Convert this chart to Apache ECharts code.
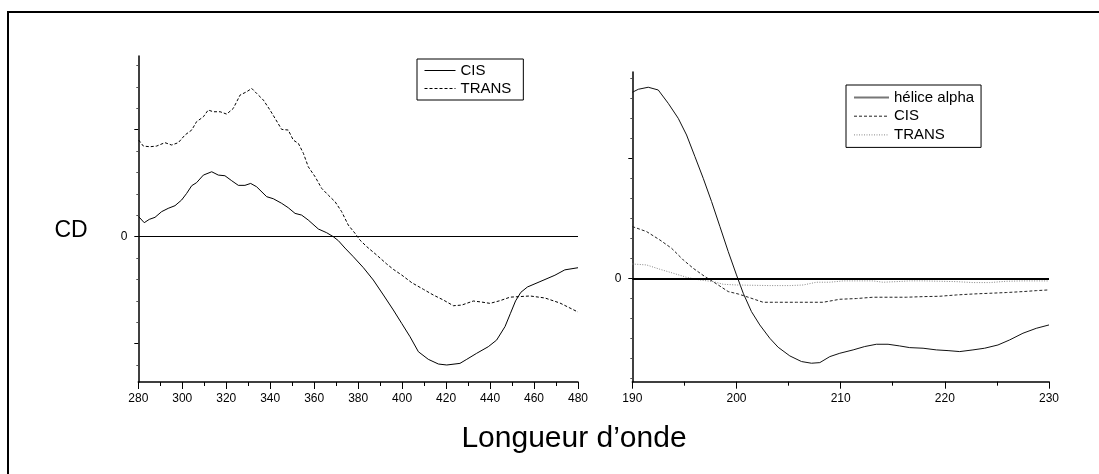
<!DOCTYPE html>
<html>
<head>
<meta charset="utf-8">
<script src="https://cdn.jsdelivr.net/npm/echarts@6/dist/echarts.min.js"></script>
<style>
  html, body { margin: 0; padding: 0; background: #fff; }
  #chart { width: 1099px; height: 474px; }
</style>
</head>
<body>
<div id="chart"></div>
<script>
// CD spectra: near-UV/visible band (280–480 nm) and far-UV band (190–230 nm)
const FONT = "'Liberation Sans', Arial, Helvetica, sans-serif";

// ---- 280–480 nm ----
const visCis = [
  [280.2, 0.187], [282.7, 0.131], [285.0, 0.162], [287.6, 0.181], [290.6, 0.234],
  [293.6, 0.265], [296.7, 0.290], [299.7, 0.343], [302.0, 0.405], [304.3, 0.477],
  [306.5, 0.505], [309.6, 0.576], [313.4, 0.607], [316.4, 0.576], [319.4, 0.570],
  [322.5, 0.523], [325.5, 0.480], [328.5, 0.480], [331.1, 0.498], [333.8, 0.467],
  [338.4, 0.374], [341.4, 0.355], [345.2, 0.312], [348.2, 0.271], [351.3, 0.218],
  [354.3, 0.202], [357.3, 0.156], [361.9, 0.072], [365.7, 0.037], [368.7, 0.000],
  [371.0, -0.037], [374.0, -0.106], [377.8, -0.187], [382.4, -0.290], [386.9, -0.405],
  [391.5, -0.545], [396.0, -0.685], [399.8, -0.810], [403.6, -0.935], [407.4, -1.075],
  [411.9, -1.146], [416.5, -1.190], [420.3, -1.199], [426.3, -1.184], [429.4, -1.146],
  [433.9, -1.090], [439.2, -1.028], [443.0, -0.966], [446.8, -0.840], [449.2, -0.720],
  [451.6, -0.600], [454.0, -0.520], [457.0, -0.470], [462.7, -0.420], [469.5, -0.360],
  [474.0, -0.310], [480.0, -0.290]
];
const visTrans = [
  [280.2, 0.903], [282.3, 0.847], [285.3, 0.841], [288.3, 0.847], [292.1, 0.879],
  [295.2, 0.857], [298.2, 0.879], [301.2, 0.950], [304.3, 0.997], [306.5, 1.075],
  [309.6, 1.121], [311.8, 1.184], [314.1, 1.168], [317.2, 1.168], [320.2, 1.146],
  [323.2, 1.199], [326.3, 1.324], [329.3, 1.355], [331.6, 1.386], [333.8, 1.340],
  [336.9, 1.277], [339.9, 1.184], [342.2, 1.106], [345.2, 1.003], [348.2, 0.997],
  [350.5, 0.903], [352.8, 0.872], [355.1, 0.779], [357.3, 0.654], [360.4, 0.561],
  [363.4, 0.452], [366.4, 0.389], [369.5, 0.327], [372.5, 0.234], [375.5, 0.109],
  [378.6, 0.031], [380.8, -0.031], [383.9, -0.093], [388.4, -0.171], [393.0, -0.255],
  [396.0, -0.305], [399.8, -0.358], [404.4, -0.430], [409.7, -0.492], [414.2, -0.545],
  [418.8, -0.592], [423.3, -0.645], [427.1, -0.639], [432.4, -0.601], [436.2, -0.611],
  [440.0, -0.623], [444.5, -0.598], [449.1, -0.565], [458.2, -0.554], [465.0, -0.573],
  [471.8, -0.620], [480.0, -0.704]
];

// ---- 190–230 nm ----
const uvHelix = [
  [190.0, 1.550], [190.58, 1.575], [191.53, 1.592], [192.49, 1.569], [193.45, 1.458],
  [194.41, 1.333], [195.21, 1.194], [196.01, 1.014], [196.81, 0.833], [197.61, 0.639],
  [198.41, 0.431], [199.21, 0.222], [200.0, 0.028], [200.65, -0.125], [201.44, -0.278],
  [202.24, -0.389], [203.2, -0.500], [204.0, -0.575], [205.12, -0.647], [206.24, -0.694],
  [207.2, -0.708], [208.0, -0.703], [208.96, -0.653], [209.92, -0.625], [211.2, -0.597],
  [212.31, -0.569], [213.43, -0.550], [214.55, -0.550], [215.67, -0.564], [216.63, -0.578],
  [217.91, -0.583], [219.19, -0.597], [220.31, -0.603], [221.43, -0.611], [222.7, -0.597],
  [223.82, -0.583], [225.1, -0.556], [226.22, -0.514], [227.5, -0.458], [228.78, -0.417],
  [230.0, -0.389]
];
const uvCis = [
  [190.0, 0.431], [191.37, 0.389], [192.65, 0.319], [193.77, 0.250], [194.89, 0.153],
  [195.85, 0.083], [196.97, 0.014], [198.09, -0.047], [199.21, -0.111], [200.17, -0.131],
  [201.13, -0.158], [202.56, -0.200], [203.84, -0.200], [205.76, -0.200], [208.32, -0.200],
  [209.92, -0.175], [211.52, -0.169], [213.11, -0.158], [214.71, -0.158], [216.31, -0.158],
  [217.91, -0.153], [219.51, -0.150], [221.11, -0.139], [222.7, -0.131], [224.3, -0.125],
  [225.9, -0.119], [227.5, -0.111], [228.78, -0.103], [230.0, -0.097]
];
const uvTrans = [
  [190.0, 0.119], [191.37, 0.111], [192.65, 0.075], [193.93, 0.042], [195.21, 0.008],
  [196.49, -0.014], [197.77, -0.028], [198.73, -0.050], [200.0, -0.056], [201.29, -0.058],
  [203.2, -0.061], [205.12, -0.061], [206.4, -0.056], [207.68, -0.033], [208.96, -0.033],
  [210.24, -0.022], [211.52, -0.022], [213.11, -0.022], [214.07, -0.033], [215.35, -0.028],
  [216.63, -0.022], [217.91, -0.022], [219.51, -0.025], [221.11, -0.028], [222.7, -0.036],
  [224.3, -0.036], [225.9, -0.025], [227.5, -0.022], [230.0, -0.022]
];

// axis ranges (nm and CD units)
const visX = [280, 480], visXStep = 20;
const uvX = [190, 230], uvXStep = 10;
const visY = [-1.358, 1.689];
const uvY = [-0.862, 1.719];
const yMajorTicks = [-1, 0, 1];
const yLabelValues = [0];

const xTitle = 'Longueur d\u2019onde';
const yTitle = 'CD';

function xAxisFor(gridIndex, range, step) {
  return {
    type: 'value', gridIndex: gridIndex, min: range[0], max: range[1], interval: step,
    axisLine: { show: true, onZero: false, lineStyle: { color: '#000', width: 1.5 } },
    axisTick: { show: true, inside: false, length: 7, lineStyle: { color: '#000', width: 1 } },
    minorTick: { show: true, splitNumber: 2, length: 4, lineStyle: { color: '#000', width: 1 } },
    axisLabel: { show: true, margin: 11, color: '#000', fontFamily: FONT, fontSize: 12 },
    splitLine: { show: false }, minorSplitLine: { show: false }
  };
}
function yAxisFor(gridIndex, range, minorSplit) {
  return {
    type: 'value', gridIndex: gridIndex, min: range[0], max: range[1], splitNumber: 3,
    axisLine: { show: true, onZero: false, lineStyle: { color: '#000', width: 1.5 } },
    axisTick: { show: true, inside: false, length: 4, customValues: yMajorTicks,
                lineStyle: { color: '#000', width: 1 } },
    minorTick: { show: true, splitNumber: minorSplit, length: 2, lineStyle: { color: '#555', width: 1 } },
    axisLabel: { show: true, margin: 11, color: '#000', fontFamily: FONT, fontSize: 12,
                 customValues: yLabelValues, formatter: function (v) { return v === 0 ? '0' : ''; } },
    splitLine: { show: false }, minorSplitLine: { show: false }
  };
}
function zeroLine(width) {
  return {
    silent: true, symbol: ['none', 'none'], label: { show: false }, animation: false,
    lineStyle: { color: '#000', width: width, type: 'solid' },
    emphasis: { disabled: true },
    data: [{ yAxis: 0 }]
  };
}
function lineSeries(name, xi, data, color, type) {
  return {
    name: name, type: 'line', xAxisIndex: xi, yAxisIndex: xi, data: data,
    symbol: 'none', smooth: false, silent: true,
    lineStyle: { color: color, width: 1, type: type },
    itemStyle: { color: color },
    emphasis: { disabled: true }
  };
}
const legendText = { fontFamily: FONT, fontSize: 15, color: '#000', lineHeight: 15 };
// legend keys shows only the line sample, no marker
const legendMarker = { color: 'rgba(0,0,0,0)', borderWidth: 0, opacity: 0 };
const stripTag = function (n) { return n.split('|')[0]; };

const chart = echarts.init(document.getElementById('chart'), null, { renderer: 'canvas' });
const s0 = lineSeries('CIS|vis', 0, visCis, '#000', 'solid');
s0.markLine = zeroLine(1);
const s2 = lineSeries('h\u00e9lice alpha|uv', 1, uvHelix, '#111', 'solid');
s2.markLine = zeroLine(2);

chart.setOption({
  animation: false,
  backgroundColor: '#fff',
  textStyle: { fontFamily: FONT },
  grid: [
    { left: 138.3, top: 56, width: 439.7, height: 326, containLabel: false },
    { left: 632.3, top: 72, width: 416.7, height: 309.7, containLabel: false }
  ],
  xAxis: [xAxisFor(0, visX, visXStep), xAxisFor(1, uvX, uvXStep)],
  yAxis: [yAxisFor(0, visY, 5), yAxisFor(1, uvY, 6)],
  legend: [
    {
      data: ['CIS|vis', 'TRANS|vis'], formatter: stripTag, selectedMode: false,
      orient: 'vertical', left: 417, top: 59, padding: [4, 12, 4, 7],
      itemWidth: 31, itemHeight: 14, itemGap: 3, itemTextGap: 6,
      borderColor: '#000', borderWidth: 1, backgroundColor: '#fff',
      itemStyle: legendMarker, lineStyle: { width: 1 },
      textStyle: legendText
    },
    {
      data: [{ name: 'h\u00e9lice alpha|uv', lineStyle: { color: '#777', width: 2 } }, 'CIS|uv', 'TRANS|uv'],
      formatter: stripTag, selectedMode: false,
      orient: 'vertical', left: 846, top: 85, padding: [5, 7, 5, 7],
      itemWidth: 35, itemHeight: 15, itemGap: 3.7, itemTextGap: 4,
      borderColor: '#000', borderWidth: 1, backgroundColor: '#fff',
      itemStyle: legendMarker, lineStyle: { width: 1 },
      textStyle: legendText
    }
  ],
  graphic: [
    { type: 'rect', silent: true, z: -1, shape: { x: 8, y: 12, width: 1200, height: 600 },
      style: { fill: 'none', stroke: '#000', lineWidth: 2 } },
    { type: 'text', silent: true, x: 71, y: 231,
      style: { text: yTitle, fill: '#000', font: '23px ' + FONT, textAlign: 'center', textVerticalAlign: 'middle' } },
    { type: 'text', silent: true, x: 574, y: 439,
      style: { text: xTitle, fill: '#000', font: '30px ' + FONT, textAlign: 'center', textVerticalAlign: 'middle' } }
  ],
  series: [
    s0,
    lineSeries('TRANS|vis', 0, visTrans, '#000', [3, 2]),
    s2,
    lineSeries('CIS|uv', 1, uvCis, '#222', [3, 2]),
    lineSeries('TRANS|uv', 1, uvTrans, '#888', [1, 1.5])
  ]
});
</script>
</body>
</html>
